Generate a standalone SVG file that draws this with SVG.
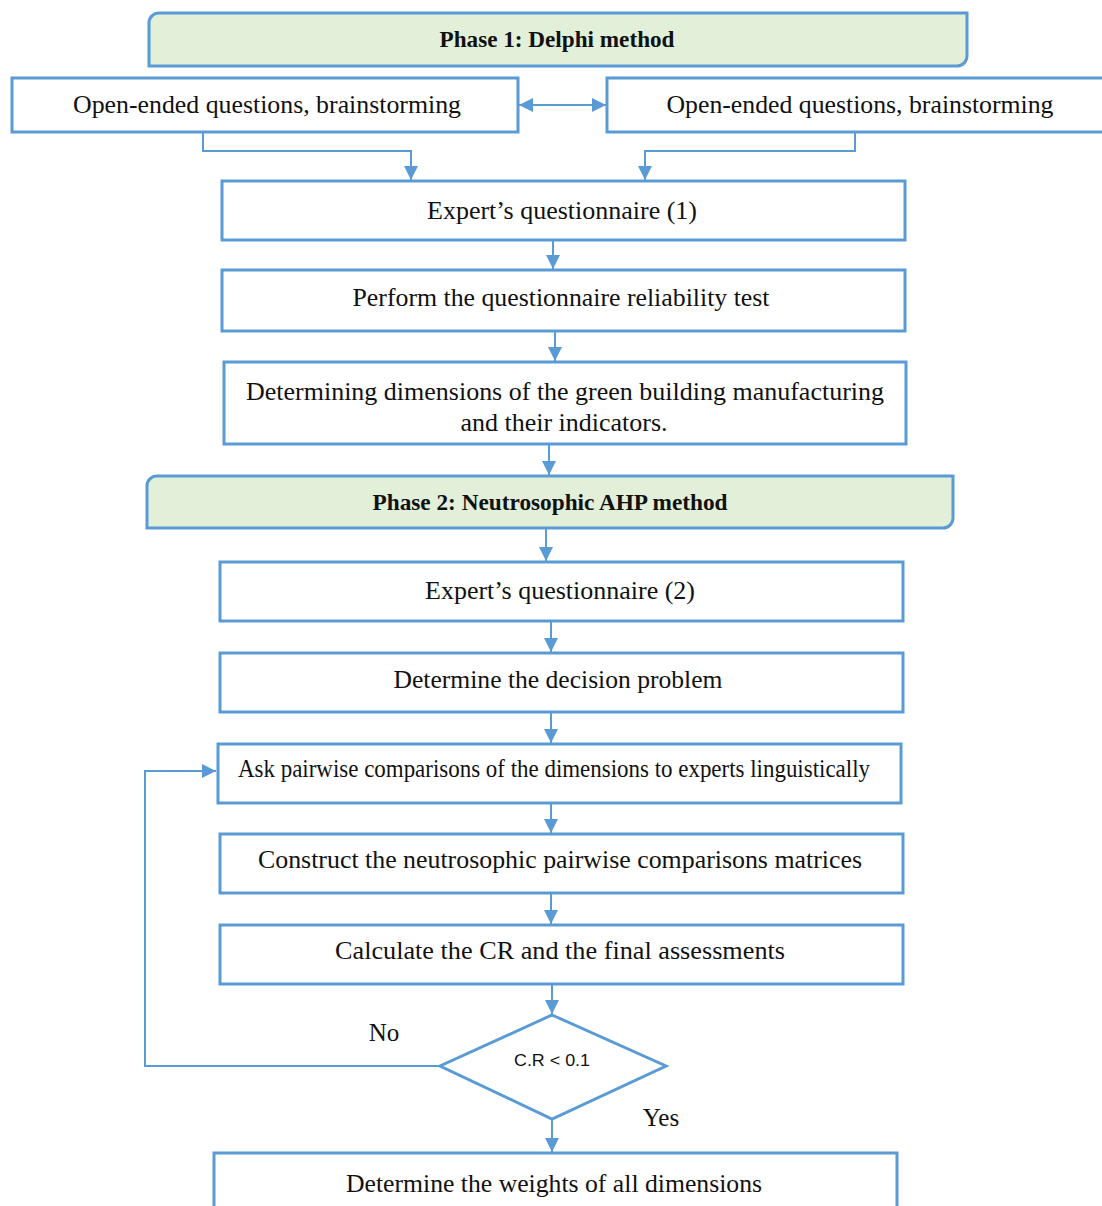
<svg xmlns="http://www.w3.org/2000/svg" width="1102" height="1206" viewBox="0 0 1102 1206">
<style>
.box{fill:#fff;stroke:#5b9bd5;stroke-width:3}
.phase{fill:#e2efd9;stroke:#5b9bd5;stroke-width:3}
.t{font-family:"Liberation Serif","Times New Roman",serif;font-size:25px;fill:#111;text-anchor:middle}
.b{font-weight:bold;font-size:24px}
.s{font-family:"Liberation Sans",Arial,sans-serif;font-size:17px;fill:#111;text-anchor:middle}
.c{fill:none;stroke:#5b9bd5;stroke-width:2}
</style>
<defs>
<marker id="ah" markerUnits="userSpaceOnUse" markerWidth="14" markerHeight="14" refX="12" refY="6" orient="auto-start-reverse" viewBox="0 0 12 12">
<path d="M0,0 L12,6 L0,12 Z" fill="#5b9bd5"/>
</marker>
</defs>
<rect width="1102" height="1206" fill="#fff"/>

<g id="phase1">
<path class="phase" d="M159,13 H967 V56 A10,10 0 0 1 957,66 H149 V23 A10,10 0 0 1 159,13 Z"/>
<text class="t b" x="557" y="47" textLength="235" lengthAdjust="spacingAndGlyphs">Phase 1: Delphi method</text>
</g>
<g id="open1">
<rect class="box" x="12" y="78" width="506" height="54"/>
<text class="t" x="267" y="113" textLength="388" lengthAdjust="spacingAndGlyphs">Open-ended questions, brainstorming</text>
</g>
<g id="open2">
<rect class="box" x="607" y="78" width="500" height="54"/>
<text class="t" x="860" y="113" textLength="387" lengthAdjust="spacingAndGlyphs">Open-ended questions, brainstorming</text>
</g>
<g id="q1">
<rect class="box" x="222" y="181" width="683" height="59"/>
<text class="t" x="562" y="219" textLength="270" lengthAdjust="spacingAndGlyphs">Expert’s questionnaire (1)</text>
</g>
<g id="reliability">
<rect class="box" x="222" y="270" width="683" height="61"/>
<text class="t" x="561" y="306" textLength="417" lengthAdjust="spacingAndGlyphs">Perform the questionnaire reliability test</text>
</g>
<g id="dimensions">
<rect class="box" x="224" y="362" width="682" height="82"/>
<text class="t" x="565" y="400" textLength="638" lengthAdjust="spacingAndGlyphs">Determining dimensions of the green building manufacturing</text>
<text class="t" x="564" y="431" textLength="207" lengthAdjust="spacingAndGlyphs">and their indicators.</text>
</g>
<g id="phase2">
<path class="phase" d="M157,476 H953 V518 A10,10 0 0 1 943,528 H147 V486 A10,10 0 0 1 157,476 Z"/>
<text class="t b" x="550" y="510" textLength="355" lengthAdjust="spacingAndGlyphs">Phase 2: Neutrosophic AHP method</text>
</g>
<g id="q2">
<rect class="box" x="220" y="562" width="683" height="59"/>
<text class="t" x="560" y="599" textLength="270" lengthAdjust="spacingAndGlyphs">Expert’s questionnaire (2)</text>
</g>
<g id="decision">
<rect class="box" x="220" y="653" width="683" height="59"/>
<text class="t" x="558" y="688" textLength="329" lengthAdjust="spacingAndGlyphs">Determine the decision problem</text>
</g>
<g id="ask">
<rect class="box" x="218" y="744" width="683" height="59"/>
<text class="t" x="554" y="777" textLength="632" lengthAdjust="spacingAndGlyphs">Ask pairwise comparisons of the dimensions to experts linguistically</text>
</g>
<g id="construct">
<rect class="box" x="220" y="834" width="683" height="59"/>
<text class="t" x="560" y="868" textLength="604" lengthAdjust="spacingAndGlyphs">Construct the neutrosophic pairwise comparisons matrices</text>
</g>
<g id="calculate">
<rect class="box" x="220" y="925" width="683" height="59"/>
<text class="t" x="560" y="959" textLength="450" lengthAdjust="spacingAndGlyphs">Calculate the CR and the final assessments</text>
</g>
<g id="check">
<path class="box" d="M552,1015 L666,1066 L552,1119 L440,1066 Z"/>
<text class="s" x="552" y="1066" textLength="76" lengthAdjust="spacingAndGlyphs">C.R &lt; 0.1</text>
</g>
<g id="weights">
<rect class="box" x="214" y="1153" width="683" height="60"/>
<text class="t" x="554" y="1192" textLength="416" lengthAdjust="spacingAndGlyphs">Determine the weights of all dimensions</text>
</g>

<g id="connectors">
<line class="c" x1="519" y1="105" x2="606" y2="105" marker-start="url(#ah)" marker-end="url(#ah)"/>
<polyline class="c" points="203,133 203,151 411,151 411,180" marker-end="url(#ah)"/>
<polyline class="c" points="855,133 855,151 645,151 645,180" marker-end="url(#ah)"/>
<line class="c" x1="553" y1="241" x2="553" y2="269" marker-end="url(#ah)"/>
<line class="c" x1="555" y1="332" x2="555" y2="361" marker-end="url(#ah)"/>
<line class="c" x1="549" y1="445" x2="549" y2="475" marker-end="url(#ah)"/>
<line class="c" x1="546" y1="529" x2="546" y2="561" marker-end="url(#ah)"/>
<line class="c" x1="551" y1="622" x2="551" y2="652" marker-end="url(#ah)"/>
<line class="c" x1="551" y1="713" x2="551" y2="743" marker-end="url(#ah)"/>
<line class="c" x1="551" y1="804" x2="551" y2="833" marker-end="url(#ah)"/>
<line class="c" x1="551" y1="894" x2="551" y2="924" marker-end="url(#ah)"/>
<line class="c" x1="552" y1="985" x2="552" y2="1014" marker-end="url(#ah)"/>
<polyline class="c" points="440,1066 145,1066 145,771 216,771" marker-end="url(#ah)"/>
<line class="c" x1="552" y1="1120" x2="552" y2="1152" marker-end="url(#ah)"/>
<text class="t" x="384" y="1041">No</text>
<text class="t" x="661" y="1126">Yes</text>
</g>
</svg>
